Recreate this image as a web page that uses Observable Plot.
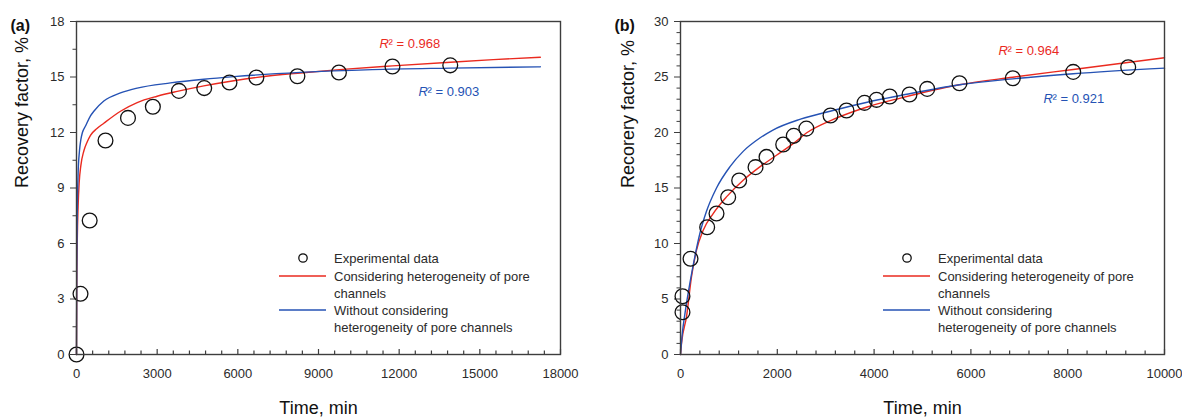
<!DOCTYPE html>
<html><head><meta charset="utf-8">
<script src="https://cdn.jsdelivr.net/npm/d3@7"></script>
<script src="https://cdn.jsdelivr.net/npm/@observablehq/plot@0.6"></script>
<style>
html,body{margin:0;padding:0;background:#fff;}
body{font-family:Arial,"Liberation Sans",sans-serif;}
#wrap{position:relative;width:1182px;height:418px;overflow:hidden;}
.panel{position:absolute;top:0;}
.legend{position:absolute;top:0;left:0;}
</style></head><body><div id="wrap"></div>
<script>
// ---------- Panel (a) ----------
const aExpTime     = [0, 149, 490, 1078, 1915, 2840, 3810, 4750, 5690, 6690, 8215, 9760, 11750, 13900];
const aExpRecovery = [0, 3.28, 7.24, 11.57, 12.79, 13.39, 14.25, 14.4, 14.7, 14.97, 15.04, 15.24, 15.57, 15.63];
const aRedTime     = [0, 10, 30, 60, 100, 160, 272, 400, 520, 750, 1016, 1636, 2257, 3000, 3744, 4735, 5850, 6720, 8330, 9780, 11750, 13910, 15500, 17250];
const aRedRecovery = [0, 3.5, 6.2, 8.0, 9.3, 10.2, 11.0, 11.5, 11.85, 12.2, 12.5, 13.15, 13.62, 13.96, 14.22, 14.52, 14.8, 14.98, 15.22, 15.4, 15.6, 15.8, 15.94, 16.07];
const aBlueTime     = [0, 10, 30, 60, 110, 160, 220, 335, 520, 645, 1016, 1636, 2257, 3496, 4735, 5850, 8330, 11000, 13900, 17250];
const aBlueRecovery = [0, 4.5, 7.8, 9.8, 11.0, 11.6, 12.0, 12.35, 12.9, 13.15, 13.7, 14.14, 14.4, 14.68, 14.88, 15.02, 15.25, 15.4, 15.48, 15.55];
const aXTicks = [0, 3000, 6000, 9000, 12000, 15000, 18000];
const aYTicks = [0, 3, 6, 9, 12, 15, 18];
const aR2 = ["0.968", "0.903"];
const aR2Pos = [[11270, 16.8], [12720, 14.2]];

// ---------- Panel (b) ----------
const bExpTime     = [41, 41, 207, 551, 744, 985, 1212, 1550, 1777, 2122, 2340, 2600, 3099, 3430, 3802, 4050, 4324, 4731, 5097, 5764, 6866, 8114, 9250];
const bExpRecovery = [3.81, 5.25, 8.62, 11.47, 12.7, 14.17, 15.68, 16.88, 17.8, 18.92, 19.7, 20.35, 21.53, 21.98, 22.67, 22.94, 23.24, 23.42, 23.93, 24.44, 24.89, 25.46, 25.88];
const bRedTime     = [0, 21, 124, 227, 331, 469, 675, 950, 1295, 1639, 1983, 2328, 2617, 3168, 3857, 4545, 5764, 6866, 8114, 10000];
const bRedRecovery = [0, 1.0, 3.4, 7.0, 9.4, 11.2, 12.7, 14.2, 15.7, 16.9, 17.95, 19.0, 20.0, 21.2, 22.3, 23.1, 24.3, 24.98, 25.68, 26.73];
const bBlueTime     = [0, 40, 89, 193, 296, 400, 537, 744, 1019, 1295, 1639, 1900, 2479, 3168, 3857, 4545, 5764, 6866, 8114, 10000];
const bBlueRecovery = [0, 2.0, 3.6, 6.4, 8.8, 10.9, 12.9, 15.0, 16.9, 18.3, 19.5, 20.2, 21.2, 22.0, 22.73, 23.33, 24.3, 24.83, 25.29, 25.8];
const bXTicks = [0, 2000, 4000, 6000, 8000, 10000];
const bYTicks = [0, 5, 10, 15, 20, 25, 30];
const bR2 = ["0.964", "0.921"];
const bR2Pos = [[6570, 27.4], [7500, 23.06]];

const legendLabels = ["Experimental data", "Considering heterogeneity of pore", "channels", "Without considering", "heterogeneity of pore channels"];

const RED = "#ea2a1f", BLUE = "#2552b4", AX = "#3d3d3d", TXT = "#2b2b2b";
const FONT = "Arial, 'Liberation Sans', sans-serif";
const H = 418, MT = 21, MB = 64;

function range(a, b, s) { const o = []; for (let v = a; v <= b + 1e-9; v += s) o.push(+v.toFixed(6)); return o; }
function zip(t, v) { return t.map((d, i) => ({t: d, v: v[i]})); }

function panel(o) {
  const plotH = H - MT - MB;
  const pts = zip(o.expT, o.expV), red = zip(o.redT, o.redV), blue = zip(o.blueT, o.blueV);
  const r2 = o.r2.map((s, i) => ({t: o.r2pos[i][0], v: o.r2pos[i][1], s, c: i === 0 ? RED : BLUE}));
  return Plot.plot({
    width: o.width, height: H, marginLeft: o.ml, marginRight: o.mr, marginTop: MT, marginBottom: MB,
    style: {fontFamily: FONT, fontSize: "13px", color: TXT, background: "transparent", overflow: "visible"},
    x: {domain: o.xDomain}, y: {domain: o.yDomain},
    marks: [
      Plot.axisY(o.yTicks, {tickSize: 6, tickPadding: 6, stroke: AX, fontSize: 13, label: null, tickFormat: d => String(d)}),
      Plot.axisY(o.yMinor, {tickSize: 3.5, stroke: AX, label: null, tickFormat: () => ""}),
      Plot.axisX(o.xTicks, {tickSize: 0, tickPadding: 14, fontSize: 13, label: null, tickFormat: d => String(d)}),
      Plot.tickX(o.xTicks, {x: d => d, insetTop: plotH - 5, stroke: AX, strokeWidth: 1.2}),
      Plot.tickX(o.xMinor, {x: d => d, insetTop: plotH - 3.5, stroke: AX, strokeWidth: 1.2}),
      Plot.line(red, {x: "t", y: "v", stroke: RED, strokeWidth: 1.4, curve: "monotone-x"}),
      Plot.line(blue, {x: "t", y: "v", stroke: BLUE, strokeWidth: 1.4, curve: "monotone-x"}),
      Plot.dot(pts, {x: "t", y: "v", r: 7.4, stroke: "#111", strokeWidth: 1.3, fill: "none"}),
      Plot.frame({stroke: AX, strokeWidth: 1.4}),
      Plot.text(r2, {x: "t", y: "v", text: () => "R", fill: "c", fontStyle: "italic", textAnchor: "start", fontSize: 13}),
      Plot.text(r2, {x: "t", y: "v", text: d => "\u00b2 = " + d.s, fill: "c", textAnchor: "start", fontSize: 13, dx: 9}),
      Plot.text([o.tag], {frameAnchor: "top-left", dx: o.tagDx, dy: 4, fontWeight: "bold", fontSize: 16, textAnchor: "start", lineAnchor: "middle", fill: "#111"}),
      Plot.text(["Time, min"], {frameAnchor: "bottom", dy: 54, fontSize: 18, lineAnchor: "middle", fill: "#111"}),
      Plot.text([o.yTitle], {frameAnchor: "left", dx: o.yTitleDx, rotate: -90, fontSize: 18, lineAnchor: "middle", fill: "#111"})
    ]
  });
}

const wrap = document.getElementById("wrap");
const pa = panel({
  width: 600, ml: 76, mr: 40, xDomain: [0, 18000], yDomain: [0, 18],
  xTicks: aXTicks, xMinor: range(0, 18000, 600).filter(v => v % 3000 !== 0),
  yTicks: aYTicks, yMinor: range(0, 18, 1.5).filter(v => v % 3 !== 0),
  expT: aExpTime, expV: aExpRecovery, redT: aRedTime, redV: aRedRecovery, blueT: aBlueTime, blueV: aBlueRecovery,
  r2: aR2, r2pos: aR2Pos, tag: "(a)", tagDx: -66, yTitle: "Recovery factor, %", yTitleDx: -54
});
pa.classList.add("panel"); pa.style.left = "0px"; wrap.appendChild(pa);

const pb = panel({
  width: 582, ml: 80, mr: 18, xDomain: [0, 10000], yDomain: [0, 30],
  xTicks: bXTicks, xMinor: range(0, 10000, 400).filter(v => v % 2000 !== 0),
  yTicks: bYTicks, yMinor: range(0, 30, 1).filter(v => v % 5 !== 0),
  expT: bExpTime, expV: bExpRecovery, redT: bRedTime, redV: bRedRecovery, blueT: bBlueTime, blueV: bBlueRecovery,
  r2: bR2, r2pos: bR2Pos, tag: "(b)", tagDx: -66, yTitle: "Recorery factor, %", yTitleDx: -52
});
pb.classList.add("panel"); pb.style.left = "600px"; wrap.appendChild(pb);

// ---------- Legends ----------
function legend(x0) {
  const ns = "http://www.w3.org/2000/svg";
  const svg = document.createElementNS(ns, "svg");
  svg.setAttribute("width", 1182); svg.setAttribute("height", 418);
  svg.setAttribute("class", "legend");
  svg.style.position = "absolute"; svg.style.left = "0px"; svg.style.top = "0px";
  const mk = (tag, attrs) => { const e = document.createElementNS(ns, tag); for (const k in attrs) e.setAttribute(k, attrs[k]); svg.appendChild(e); return e; };
  mk("circle", {cx: x0 + 24, cy: 258, r: 4.2, fill: "none", stroke: "#111", "stroke-width": 1.3});
  mk("line", {x1: x0, x2: x0 + 47, y1: 276, y2: 276, stroke: RED, "stroke-width": 1.4});
  mk("line", {x1: x0, x2: x0 + 47, y1: 310, y2: 310, stroke: BLUE, "stroke-width": 1.4});
  const ys = [258, 276.5, 293, 310.5, 327];
  legendLabels.forEach((s, i) => {
    const t = mk("text", {x: x0 + 55, y: ys[i], "dominant-baseline": "central", "font-size": 13, "font-family": FONT, fill: TXT});
    t.textContent = s;
  });
  return svg;
}
wrap.appendChild(legend(279));
wrap.appendChild(legend(883));
</script></body></html>
